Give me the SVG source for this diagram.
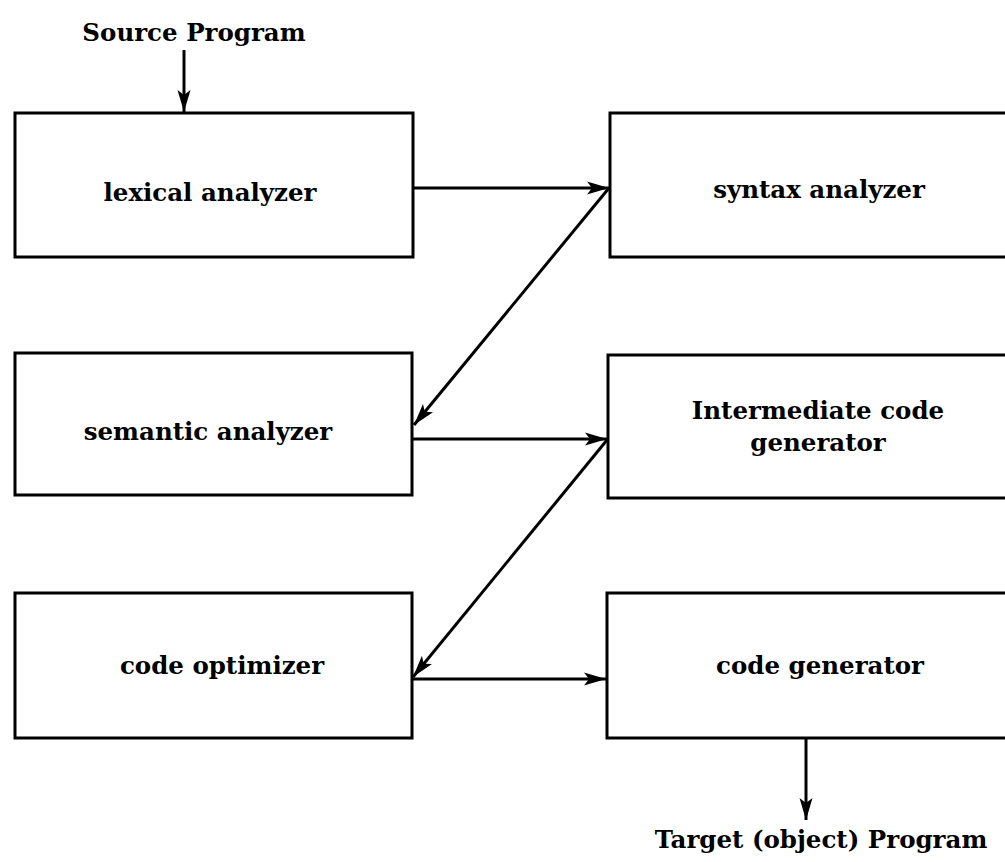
<svg xmlns="http://www.w3.org/2000/svg" width="1005" height="862" viewBox="0 0 1005 862">
<style>
.box{fill:#fff;stroke:#000;stroke-width:3}
.lbl{font-family:"DejaVu Serif","Liberation Serif",serif;font-weight:bold;font-size:24.5px;fill:#000;text-anchor:middle}
.conn line{stroke:#000;stroke-width:3}
</style>
<defs>
<marker id="ah" markerUnits="userSpaceOnUse" markerWidth="24" markerHeight="16" refX="22" refY="8" orient="auto">
<path d="M0,1.5 L22,8 L0,14.5 L5,8 Z" fill="#000"/>
</marker>
</defs>
<rect width="1005" height="862" fill="#fff"/>
<g id="lexical"><rect class="box" x="15" y="113" width="398" height="144"/><text class="lbl" x="210" y="201">lexical analyzer</text></g>
<g id="syntax"><rect class="box" x="610" y="113" width="420" height="144"/><text class="lbl" x="819" y="198">syntax analyzer</text></g>
<g id="semantic"><rect class="box" x="15" y="353" width="397" height="142"/><text class="lbl" x="208" y="440">semantic analyzer</text></g>
<g id="intermediate"><rect class="box" x="608" y="355" width="420" height="143"/><text class="lbl" x="818" y="419">Intermediate code</text><text class="lbl" x="818" y="451">generator</text></g>
<g id="optimizer"><rect class="box" x="15" y="593" width="397" height="145"/><text class="lbl" x="222" y="674">code optimizer</text></g>
<g id="codegen"><rect class="box" x="607" y="593" width="420" height="145"/><text class="lbl" x="820" y="674">code generator</text></g>
<g id="source"><text class="lbl" x="194" y="41">Source Program</text></g>
<g id="target"><text class="lbl" x="821" y="848">Target (object) Program</text></g>
<g class="conn" id="connectors">
<line x1="184" y1="50" x2="184" y2="112" marker-end="url(#ah)"/>
<line x1="413" y1="188" x2="609" y2="188" marker-end="url(#ah)"/>
<line x1="609" y1="188" x2="414" y2="425" marker-end="url(#ah)"/>
<line x1="412" y1="439" x2="607" y2="439" marker-end="url(#ah)"/>
<line x1="607" y1="440" x2="413" y2="677" marker-end="url(#ah)"/>
<line x1="412" y1="679" x2="606" y2="679" marker-end="url(#ah)"/>
<line x1="806" y1="738" x2="806" y2="820" marker-end="url(#ah)"/>
</g>
</svg>
